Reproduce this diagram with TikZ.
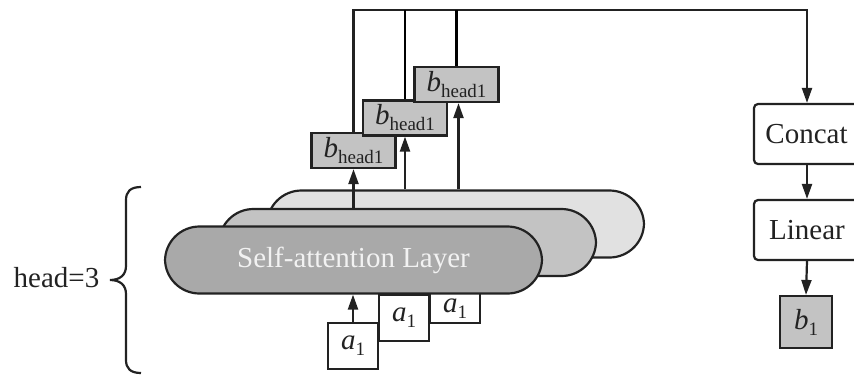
\documentclass[tikz,border=0pt]{standalone}
\usepackage{fontspec}
\setmainfont{Liberation Serif}
\usetikzlibrary{arrows.meta}
\definecolor{ink}{HTML}{222222}
\definecolor{layA}{HTML}{A9A9A9}
\definecolor{layB}{HTML}{C3C3C3}
\definecolor{layC}{HTML}{E1E1E1}
\definecolor{boxgray}{HTML}{C3C3C3}
\newcommand\subx[1]{\raisebox{-6pt}{\fontsize{19}{19}\selectfont #1}}
\begin{document}
\begin{tikzpicture}[x=1pt,y=-1pt,line width=2.2pt,
  every node/.style={font=\fontsize{29}{33}\selectfont, text=ink},
  lay/.style={draw=ink, rounded corners=34.5pt, minimum width=377pt, minimum height=67pt, inner sep=0pt},
  hbox/.style={draw=ink, fill=boxgray, minimum width=84pt, minimum height=35pt, inner sep=0pt},
  abox/.style={draw=ink, fill=white, minimum width=50pt, minimum height=46pt, inner sep=0pt},
  opbox/.style={draw=ink, fill=white, rounded corners=4pt, minimum width=106pt, minimum height=60pt, inner sep=0pt},
  arr/.style={draw=ink, -{Triangle[length=15pt,width=10pt]}}]
\useasboundingbox (0,0) rectangle (854,376);
\clip (0,0) rectangle (854,376);
% input boxes behind the layers
\node[abox] (aC) at (455,300) {\raisebox{-12pt}[0pt][0pt]{\makebox[0pt]{{\itshape a}\subx{1}}}};
\node[abox] (aB) at (404,318) {{\itshape a}\subx{1}};
% layers
\node[lay, fill=layC] (L3) at (455.5,224) {};
\node[lay, fill=layB] (L2) at (407.5,242.5) {};
\node[lay, fill=layA, text=white!95!black] (L1) at (353.5,260) {Self-attention Layer};
\node[abox] (aA) at (353,346) {{\itshape a}\subx{1}};
% head outputs
\node[hbox] (hb1) at (353.5,150.5) {{\itshape b}\subx{head1}};
\node[hbox] (hb2) at (405,118) {{\itshape b}\subx{head1}};
\node[hbox] (hb3) at (456.5,84.5) {{\itshape b}\subx{head1}};
% arrows
\draw[arr] (aA.north) -- (aA.north |- L1.south);
\draw[arr] (hb1.south |- L2.north) -- (hb1.south);
\draw[arr] (hb2.south |- L3.north) -- (hb2.south);
\draw[arr] ([xshift=2pt]hb3.south |- L3.north) -- ([xshift=2pt]hb3.south);
% right column
\node[opbox] (concat) at (807,134) {\hspace*{-1pt}Concat};
\node[opbox] (linear) at (807,230) {Linear};
\node[draw=ink, fill=boxgray, minimum width=52pt, minimum height=52pt, inner sep=0pt] (b1) at (806,322) {{\itshape b}\subx{1}};
\draw[arr] (concat.south) -- (linear.north);
\draw[arr] (linear.south) -- (b1.north);
% top connectors
\coordinate (T) at (0,10);
\draw[arr] (hb1.north) -- (hb1.north |- T) -| (concat.north);
\draw (hb2.north) -- (hb2.north |- T);
\draw (hb3.north) -- (hb3.north |- T);
% brace
\draw[ink, line width=2.2pt] (141,187) .. controls (130,187) and (126,192) .. (126,200)
  -- (126,266) .. controls (126,275) and (120,280) .. (110,280)
  .. controls (120,280) and (126,285) .. (126,294)
  -- (126,360) .. controls (126,368) and (130,373) .. (141,373);
\node (head) at (56.5,278) {head=3};
\end{tikzpicture}
\end{document}
